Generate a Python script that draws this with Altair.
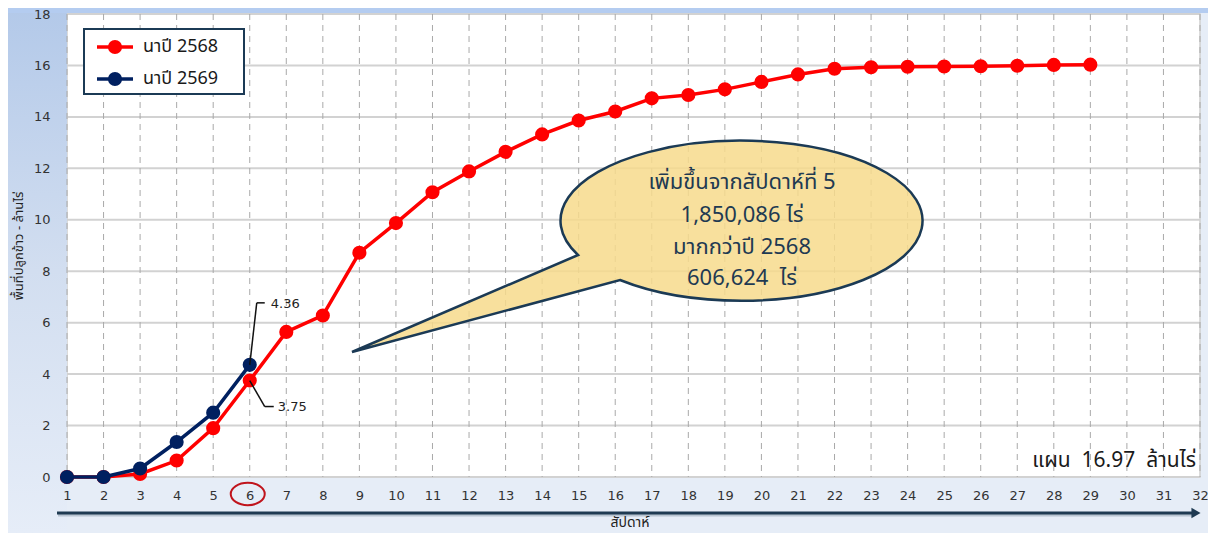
import altair as alt
import pandas as pd

# ---------------- data ----------------
weeks_2568 = list(range(1, 30))
area_2568 = [0.0, 0.0, 0.12, 0.64, 1.90, 3.75, 5.64, 6.28, 8.72, 9.87,
             11.07, 11.88, 12.64, 13.32, 13.86, 14.21, 14.72, 14.85, 15.07, 15.36,
             15.65, 15.87, 15.93, 15.95, 15.96, 15.97, 15.99, 16.02, 16.03]
weeks_2569 = list(range(1, 7))
area_2569 = [0.0, 0.0, 0.33, 1.36, 2.50, 4.36]

series_names = ["นาปี 2568", "นาปี 2569"]
series_colors = ["#ff0000", "#002060"]

x_ticks = list(range(1, 33))
y_ticks = list(range(0, 19, 2))
x_title = "สัปดาห์"
y_title = "พื้นที่ปลูกข้าว - ล้านไร่"

NB = "\u00a0"
callout_lines = ["เพิ่มขึ้นจากสัปดาห์ที่ 5", "1,850,086 ไร่", "มากกว่าปี 2568",
                 "606,624" + NB + NB + "ไร่"]
plan_text = "แผน" + NB + NB + "16.97" + NB + NB + "ล้านไร่"
highlight_week = 6
label_2569 = "4.36"
label_2568 = "3.75"

# ---------------- layout ----------------
W, H = 1133, 463
FONT = "Noto Sans Thai, Tahoma, DejaVu Sans, sans-serif"
NUMFONT = "DejaVu Sans, Verdana, sans-serif"

xs = alt.Scale(domain=[1, 32], nice=False, zero=False)
ys = alt.Scale(domain=[0, 18], nice=False, zero=False)

X_AXIS = alt.Axis(values=x_ticks, grid=False, domain=False, ticks=False, tickSize=0,
                  labelFont=NUMFONT, labelFontSize=13, labelColor="#333333",
                  labelBaseline="middle", labelPadding=18, labelFlush=False,
                  labelOverlap=False, title=x_title, titleFont=FONT, titleFontSize=14,
                  titleFontWeight="normal", titleColor="#222222", titleY=45,
                  titleBaseline="middle", titleX=W / 2 - 4, zindex=1)
Y_AXIS = alt.Axis(values=y_ticks, grid=False, domain=False, ticks=False, tickSize=0,
                  labelFont=NUMFONT, labelFontSize=13, labelColor="#333333",
                  labelPadding=17, title=y_title, titleFont=FONT, titleFontSize=13,
                  titleFontWeight="normal", titleColor="#222222", titleAngle=270,
                  titleX=-49, titleY=H / 2, titleBaseline="middle", titleAlign="center",
                  zindex=1)

one = pd.DataFrame({"k": [0]})

# background decorations outside plot area
left_grad = alt.LinearGradient(gradient="linear", x1=0, x2=0, y1=0, y2=1,
                               stops=[alt.GradientStop(color="#b3c9e9", offset=0),
                                      alt.GradientStop(color="#d2def0", offset=0.5),
                                      alt.GradientStop(color="#e6edf8", offset=1)])
left_strip = alt.Chart(one).mark_rect(fill=left_grad).encode(
    x=alt.value(-59), x2=alt.value(0), y=alt.value(-6), y2=alt.value(519))
top_strip = alt.Chart(one).mark_rect(fill="#b4ccf0").encode(
    x=alt.value(-59), x2=alt.value(W + 8), y=alt.value(-6), y2=alt.value(-1))

# gridlines
vgrid = alt.Chart(pd.DataFrame({"wk": x_ticks})).mark_rule(
    stroke="#a9a9a9", strokeWidth=1, strokeDash=[6, 5]).encode(
    x=alt.X("wk:Q", scale=xs, axis=X_AXIS))
hgrid = alt.Chart(pd.DataFrame({"v": y_ticks})).mark_rule(
    stroke="#d2d2d2", strokeWidth=2).encode(
    y=alt.Y("v:Q", scale=ys, axis=Y_AXIS))

# callout bubble (ellipse + tail) as a custom symbol
R = 400.0
cx, cy = 672, 203
A = (-161 / R, 38 / R)
B = (-119 / R, 63 / R)
T = (-387 / R, 135 / R)
rx, ry = 181 / R, 80 / R
bubble_path = (f"M{A[0]:.4f},{A[1]:.4f} A{rx:.4f},{ry:.4f} 0 1,1 {B[0]:.4f},{B[1]:.4f} "
               f"L{T[0]:.4f},{T[1]:.4f} Z")
bubble = alt.Chart(one).mark_point(
    shape=bubble_path, filled=True, fill="#f7da8c", fillOpacity=0.85,
    stroke="#1b3a55", strokeWidth=2.5, strokeOpacity=1, size=(2 * R) ** 2
).encode(x=alt.value(cx), y=alt.value(cy))

callout_layers = []
line_y = [168, 201, 233, 264]
for txt, yy in zip(callout_lines, line_y):
    callout_layers.append(
        alt.Chart(one).mark_text(text=txt, font=FONT, fontSize=22, color="#1f3a52",
                                 align="center", baseline="middle").encode(
            x=alt.value(cx + 3), y=alt.value(yy)))

# series
series_layers = []
for name, wks, vals, col in zip(series_names, [weeks_2568, weeks_2569],
                                [area_2568, area_2569], series_colors):
    df = pd.DataFrame({"week": wks, "area": vals, "series": name})
    base = alt.Chart(df).encode(
        x=alt.X("week:Q", scale=xs, axis=X_AXIS),
        y=alt.Y("area:Q", scale=ys, axis=Y_AXIS))
    series_layers.append(base.mark_line(color=col, strokeWidth=3.5))
    series_layers.append(base.mark_circle(color=col, size=200, opacity=1))

# value annotations with leader lines
def leader(week, value, text, ex, ey, hx, tx, ty):
    df = pd.DataFrame({"week": [week], "area": [value]})
    b = alt.Chart(df).encode(
        x=alt.X("week:Q", scale=xs, axis=X_AXIS),
        y=alt.Y("area:Q", scale=ys, axis=Y_AXIS),
        x2="week:Q", y2="area:Q")
    r1 = b.mark_rule(color="#111111", strokeWidth=1.5, x2Offset=ex, y2Offset=ey)
    r2 = b.mark_rule(color="#111111", strokeWidth=1.5, xOffset=ex, yOffset=ey,
                     x2Offset=hx, y2Offset=ey)
    t = alt.Chart(df).mark_text(text=text, font=NUMFONT, fontSize=13, color="#222222",
                                align="left", baseline="middle", dx=tx, dy=ty).encode(
        x=alt.X("week:Q", scale=xs, axis=X_AXIS),
        y=alt.Y("area:Q", scale=ys, axis=Y_AXIS))
    return [r1, r2, t]

ann = leader(weeks_2569[5], area_2569[5], label_2569, 7, -62, 15, 21, -61)
ann += leader(weeks_2568[5], area_2568[5], label_2568, 15, 26, 24, 28, 26)

# circle around highlighted week label
ell_path = "M-1,0 A1,0.66 0 1,1 1,0 A1,0.66 0 1,1 -1,0 Z"
hl = alt.Chart(pd.DataFrame({"week": [highlight_week]})).mark_point(
    shape=ell_path, filled=False, stroke="#c0141c", strokeWidth=2, size=34 * 34, opacity=1
).encode(x=alt.X("week:Q", scale=xs, axis=X_AXIS), y=alt.value(480), xOffset=alt.value(-2))

# x axis arrow (with soft shadow)
arrow_shadow = alt.Chart(one).mark_rule(color="#9aa8b8", strokeWidth=3, opacity=0.6).encode(
    x=alt.value(-9), x2=alt.value(1126), y=alt.value(501))
arrow_line = alt.Chart(one).mark_rule(color="#1f3a52", strokeWidth=3).encode(
    x=alt.value(-10), x2=alt.value(1126), y=alt.value(499))
arrow_head = alt.Chart(one).mark_point(shape="triangle-right", filled=True, fill="#1f3a52",
                                       size=110, opacity=1).encode(
    x=alt.value(1129), y=alt.value(499))

# plan text
plan = alt.Chart(one).mark_text(text=plan_text, font=FONT, fontSize=21, color="#1a1a1a",
                                align="right", baseline="middle").encode(
    x=alt.value(1129), y=alt.value(447))

# manual legend
legend_layers = [alt.Chart(one).mark_rect(fill="white", stroke="#1b3a55", strokeWidth=2).encode(
    x=alt.value(17), x2=alt.value(177), y=alt.value(15), y2=alt.value(80))]
for i, (name, col) in enumerate(zip(series_names, series_colors)):
    ly = 33 + 32 * i
    legend_layers.append(alt.Chart(one).mark_rule(color=col, strokeWidth=3.5).encode(
        x=alt.value(30), x2=alt.value(66), y=alt.value(ly)))
    legend_layers.append(alt.Chart(one).mark_circle(color=col, size=200, opacity=1).encode(
        x=alt.value(48), y=alt.value(ly)))
    legend_layers.append(alt.Chart(one).mark_text(text=name, font=FONT, fontSize=18,
                                                  color="#1a1a1a", align="left",
                                                  baseline="middle").encode(
        x=alt.value(76), y=alt.value(ly)))

chart = alt.layer(
    left_strip, top_strip, hgrid, vgrid, bubble, *callout_layers,
    *series_layers, *ann, hl, arrow_shadow, arrow_line, arrow_head, plan, *legend_layers
).properties(
    width=W, height=H,
    autosize=alt.AutoSizeParams(type="none"),
    padding={"left": 59, "top": 6, "right": 8, "bottom": 56},
    background="#e6edf7",
).configure_view(fill="white", stroke="#cfcfcf", strokeWidth=1.5)

chart.save("out.html", embed_options={"renderer": "svg", "actions": False})
